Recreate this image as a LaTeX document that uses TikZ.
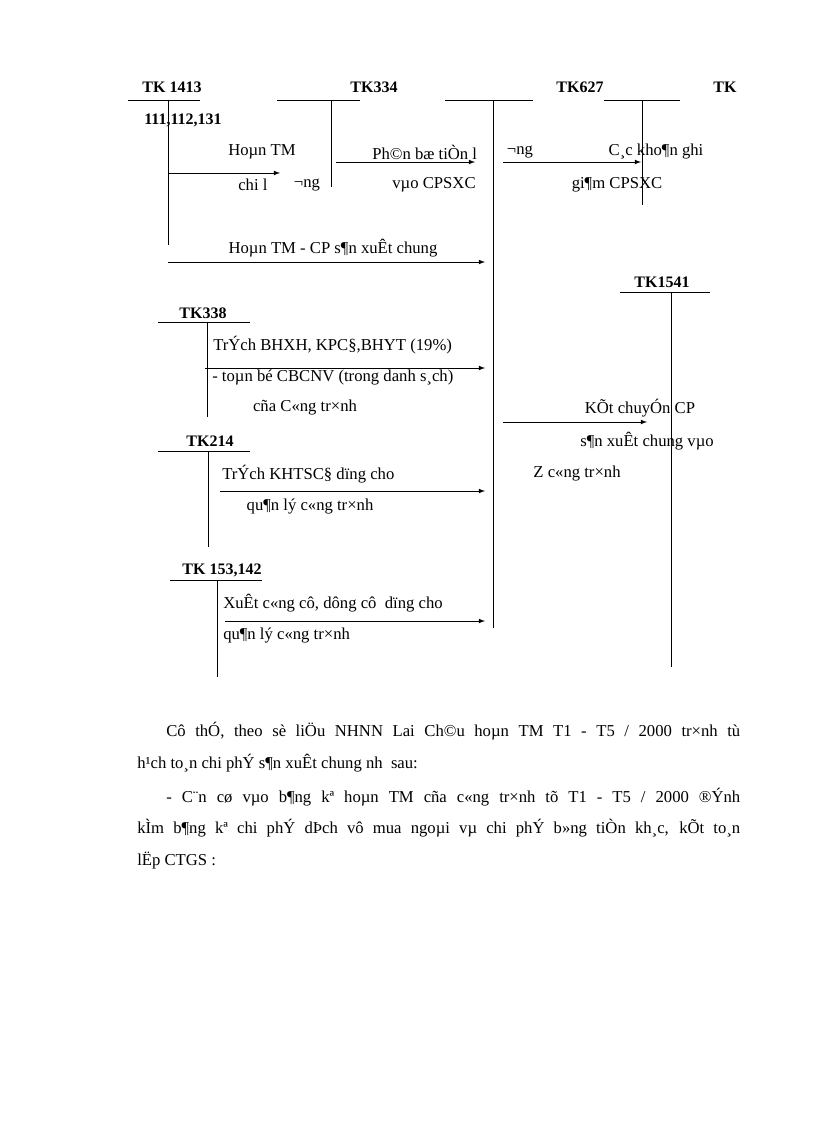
\documentclass[tikz,border=0pt]{standalone}
\usepackage{fontspec}
\setmainfont{Liberation Serif}
\begin{document}
\begin{tikzpicture}[x=0.75pt,y=-0.75pt,
  lbl/.style={inner sep=0pt,font=\fontsize{12}{14}\selectfont\bfseries},
  txt/.style={inner sep=0pt,font=\fontsize{12.5}{14}\selectfont},
  ln/.style={line width=0.6pt},
  arr/.style={line width=0.6pt,-latex}]
\useasboundingbox (0,0) rectangle (816,1123);
% accounts
\node[lbl] (t1413) at (172,87) {TK 1413};
\coordinate (h1a) at (128,100); \coordinate (h1b) at (200,100);
\draw[ln] (h1a) -- (h1b); \draw[ln] (168,100) coordinate (v1a) -- (168,245) coordinate (v1b);
\node[lbl] (t334) at (374,87) {TK334};
\draw[ln] (277,100) coordinate (h2a) -- (360,100) coordinate (h2b);
\draw[ln] (331,100) coordinate (v2a) -- (331,187) coordinate (v2b);
\node[lbl] (t627) at (580,87) {TK627};
\draw[ln] (445,100) coordinate (h3a) -- (533,100) coordinate (h3b);
\draw[ln] (493,100) coordinate (v3a) -- (493,628) coordinate (v3b);
\node[lbl] (ttk) at (725,87) {TK};
\draw[ln] (604,100) coordinate (h4a) -- (680,100) coordinate (h4b);
\draw[ln] (642,100) coordinate (v4a) -- (642,205) coordinate (v4b);
\node[lbl] (t111) at (183,120) {111,112,131};
% row 1
\node[txt] (a1) at (262,152) {Hoµn TM};
\draw[arr] (168,173) coordinate (s1) -- (280,173) coordinate (e1);
\node[txt,anchor=west] (a1b) at (238,185) {chi l};
\node[txt] (a1c) at (307,185) {¬ng};
\node[txt,anchor=west] (a2) at (372,152) {Ph©n bæ tiÒn l};
\node[txt] (a2b) at (520,152) {¬ng};
\draw[arr] (336,162) coordinate (s2) -- (475,162) coordinate (e2);
\node[txt] (a2c) at (434,185) {vµo CPSXC};
\node[txt] (a3) at (656,152) {C¸c kho¶n ghi};
\draw[arr] (503,162) coordinate (s3) -- (641,162) coordinate (e3);
\node[txt] (a3b) at (617,185) {gi¶m CPSXC};
\node[txt] (a4) at (333,248) {Hoµn TM - CP s¶n xuÊt chung};
\draw[arr] (168,262) coordinate (s4) -- (485,262) coordinate (e4);
% TK1541
\node[lbl] (t1541) at (662,282) {TK1541};
\draw[ln] (620,292) coordinate (h5a) -- (710,292) coordinate (h5b);
\draw[ln] (671,292) coordinate (v5a) -- (671,667) coordinate (v5b);
% TK338
\node[lbl] (t338) at (203,313) {TK338};
\draw[ln] (158,322) coordinate (h6a) -- (250,322) coordinate (h6b);
\draw[ln] (207,322) coordinate (v6a) -- (207,417) coordinate (v6b);
\node[txt,anchor=west] (b1) at (213,345) {TrÝch BHXH, KPC§,BHYT (19\%)};
\draw[arr] (205,368) coordinate (s5) -- (485,368) coordinate (e5);
\node[txt,anchor=west] (b2) at (212,378) {- toµn bé CBCNV (trong danh s¸ch)};
\node[txt] (b3) at (305,408) {cña C«ng tr×nh};
% ket chuyen
\draw[arr] (503,422) coordinate (s6) -- (647,422) coordinate (e6);
\node[txt] (c1) at (640,408) {KÕt chuyÓn CP};
\node[txt] (c2) at (647,441) {s¶n xuÊt chung vµo};
\node[txt] (c3) at (577,474) {Z c«ng tr×nh};
% TK214
\node[lbl] (t214) at (210,441) {TK214};
\draw[ln] (158,451) coordinate (h7a) -- (250,451) coordinate (h7b);
\draw[ln] (208,451) coordinate (v7a) -- (208,547) coordinate (v7b);
\node[txt,anchor=west] (d1) at (222,474) {TrÝch KHTSC§ dïng cho};
\draw[arr] (220,491) coordinate (s7) -- (485,491) coordinate (e7);
\node[txt] (d2) at (310,506) {qu¶n lý c«ng tr×nh};
% TK153
\node[lbl] (t153) at (222,570) {TK 153,142};
\draw[ln] (170,580) coordinate (h8a) -- (262,580) coordinate (h8b);
\draw[ln] (217,580) coordinate (v8a) -- (217,677) coordinate (v8b);
\node[txt,anchor=west] (f1) at (223,603) {XuÊt c«ng cô, dông cô\ \ dïng cho};
\draw[arr] (225,621) coordinate (s8) -- (485,621) coordinate (e8);
\node[txt,anchor=west] (f2) at (223,635) {qu¶n lý c«ng tr×nh};
% paragraph
\node[txt,anchor=west] (p1) at (166,731) {\makebox[430.5pt][s]{Cô thÓ, theo sè liÖu NHNN Lai Ch©u hoµn TM T1 - T5 / 2000 tr×nh tù}};
\node[txt,anchor=west] (p2) at (137,763) {h¹ch to¸n chi phÝ s¶n xuÊt chung nh\ \ sau:};
\node[txt,anchor=west] (p3) at (166,797) {\makebox[430.5pt][s]{- C¨n cø vµo b¶ng kª hoµn TM cña c«ng tr×nh tõ T1 - T5 / 2000 ®Ýnh}};
\node[txt,anchor=west] (p4) at (137,828) {\makebox[452.25pt][s]{kÌm b¶ng kª chi phÝ dÞch vô mua ngoµi vµ chi phÝ b»ng tiÒn kh¸c, kÕt to¸n}};
\node[txt,anchor=west] (p5) at (137,861) {lËp CTGS :};
\end{tikzpicture}
\end{document}
